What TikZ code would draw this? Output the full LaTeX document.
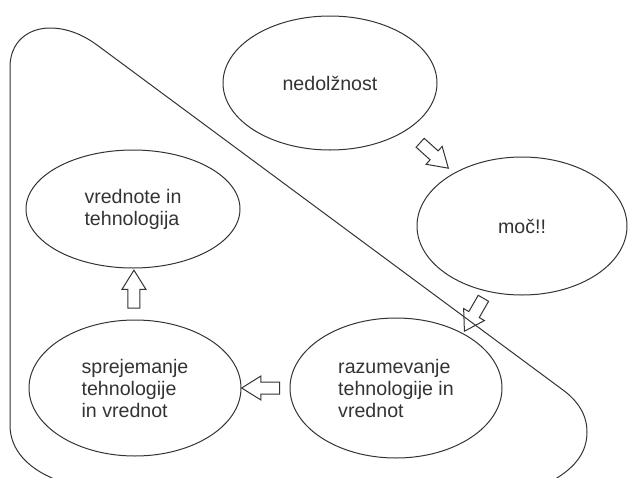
\documentclass[tikz,border=0pt]{standalone}
\usepackage{fontspec}
\setmainfont{Liberation Sans}
\usetikzlibrary{shapes.geometric, shapes.arrows, calc, positioning}

\begin{document}
\begin{tikzpicture}[x=1pt, y=-1pt, font=\fontsize{19.6}{22}\selectfont]
  % Define styles
  \tikzstyle{idea} = [ellipse, draw=black!80, line width=1pt, inner sep=0pt, text=black!80, align=left]
  \tikzstyle{blockarrow} = [single arrow, draw=black!80, line width=1pt, inner xsep=0pt, inner ysep=5.5pt, minimum height=38pt, minimum width=23pt, single arrow head extend=6pt, single arrow tip angle=64]
  \tikzstyle{outline} = [draw=black!80, line width=1pt]

  \useasboundingbox (0,0) rectangle (629,477);

  % Big outline behind the cycle
  \begin{scope}
    \clip (0,0) rectangle (629,477);
    \path [outline] (62,482) .. controls (28,470) and (10,450) .. (10,425)
      -- (10,67) .. controls (10,42) and (28,28) .. (50,28)
      .. controls (66,28) and (82,34) .. (97,45)
      -- (563,390) .. controls (578,401) and (587,415) .. (587,432)
      .. controls (587,455) and (572,470) .. (550,482);
  \end{scope}

  % Place nodes
  \node [idea, minimum width=214pt, minimum height=134pt] (ned) at (330,83) {nedolžnost};
  \node [idea, minimum width=210pt, minimum height=138pt] (moc) at (522,226) {moč!!};
  \node [idea, minimum width=212pt, minimum height=140pt] (razum) at (396,388) {razumevanje\\tehnologije in\\vrednot};
  \node [idea, minimum width=212pt, minimum height=136pt] (sprej) at (135,388) {sprejemanje\\tehnologije\\in vrednot};
  \node [idea, minimum width=214pt, minimum height=118pt] (vred) at (133,209) {vrednote in\\tehnologija};

  % Draw edges
  \path (ned) -- node [blockarrow, xshift=5pt, yshift=2pt, rotate=-42] (a1) {} (moc);
  \path (moc) -- node [blockarrow, xshift=17pt, yshift=-4pt, rotate=-120] (a2) {} (razum);
  \path (razum) -- node [blockarrow, rotate=180] (a3) {} (sprej);
  \path (sprej) -- node [blockarrow, rotate=90] (a4) {} (vred);
\end{tikzpicture}
\end{document}
